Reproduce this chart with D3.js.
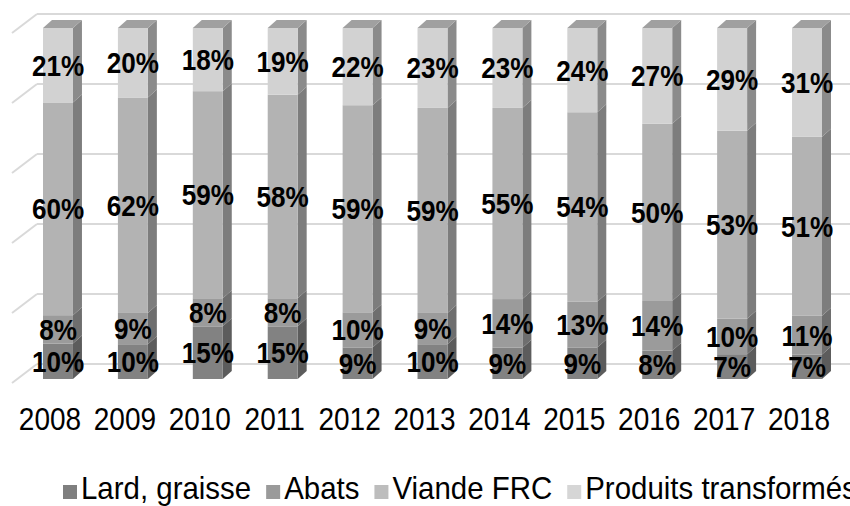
<!DOCTYPE html>
<html><head><meta charset="utf-8">
<script src="https://cdn.jsdelivr.net/npm/d3@7"></script>
<style>body{margin:0;background:#fff}svg{display:block}</style>
</head><body>
<svg id="c" width="850" height="506"></svg>
<script>
const years = ["2008","2009","2010","2011","2012","2013","2014","2015","2016","2017","2018"];
const seriesNames = ["Lard, graisse","Abats","Viande FRC","Produits transformés"];
const lard     = [10,10,15,15, 9,10, 9, 9, 8, 7, 7];
const abats    = [ 8, 9, 8, 8,10, 9,14,13,14,10,11];
const viande   = [60,62,59,58,59,59,55,54,50,53,51];
const produits = [21,20,18,19,22,23,23,24,27,29,31];
const gridTicks = [0,0.2,0.4,0.6,0.8,1];

const frontCol = ["#828282","#9b9b9b","#b3b3b3","#d2d2d2"];
const sideCol  = ["#5c5c5c","#6e6e6e","#7d7d7d","#8b8b8b"];
const topCol = "#a0a0a0";
const legendCol = ["#7f7f7f","#9a9a9a","#bdbdbd","#d6d6d6"];
const FONT = "'Liberation Sans', Arial, sans-serif";

const svg = d3.select("#c");
const all = [lard, abats, viande, produits];
const rows = years.map((y,i)=>{
  const vals = all.map(s=>s[i]);
  const tot = d3.sum(vals);
  const r = {year:y};
  seriesNames.forEach((n,k)=>{ r[n]=vals[k]/tot; });
  return r;
});
const stack = d3.stack().keys(seriesNames)(rows);

const x = d3.scaleBand().domain(years).range([43, 822]).paddingInner(0.6).paddingOuter(0);
const y = d3.scaleLinear().domain([0,1]).range([379, 28]);
const yBack = d3.scaleLinear().domain([0,1]).range([364, 14]);
const dx = 9, dy = 8;
const wallDx = 25, wallDy = 19;

const g = svg.append("g");
gridTicks.forEach(t=>{
  const yy = yBack(t);
  g.append("line").attr("x1",37).attr("x2",850).attr("y1",yy).attr("y2",yy)
    .attr("stroke","#d9d9d9").attr("stroke-width",2);
  g.append("line").attr("x1",37-wallDx).attr("y1",yy+wallDy).attr("x2",37).attr("y2",yy)
    .attr("stroke","#d9d9d9").attr("stroke-width",2);
});

const bars = svg.append("g");
stack.forEach((layer,k)=>{
  layer.forEach((d,i)=>{
    const x0 = x(years[i]), w = x.bandwidth();
    const yb = y(d[0]), yt = y(d[1]);
    bars.append("polygon")
      .attr("points",[[x0+w,yb],[x0+w+dx,yb-dy],[x0+w+dx,yt-dy],[x0+w,yt]].join(" "))
      .attr("fill",sideCol[k]);
    bars.append("rect").attr("x",x0).attr("y",yt).attr("width",w).attr("height",yb-yt)
      .attr("fill",frontCol[k]);
    if(k===stack.length-1){
      bars.append("polygon")
        .attr("points",[[x0,yt],[x0+dx,yt-dy],[x0+w+dx,yt-dy],[x0+w,yt]].join(" "))
        .attr("fill",topCol);
    }
  });
});

const labels = svg.append("g").style("font-family",FONT)
  .attr("font-weight","bold").attr("font-size",29).attr("fill","#000").attr("text-anchor","middle");
stack.forEach((layer,k)=>{
  layer.forEach((d,i)=>{
    labels.append("text")
      .attr("transform",`translate(${x(years[i]) + x.bandwidth()/2},${(y(d[0])+y(d[1]))/2}) scale(0.9,1)`)
      .attr("dy","0.36em")
      .text(all[k][i]+"%");
  });
});

const xa = svg.append("g").style("font-family",FONT)
  .attr("font-size",32).attr("fill","#000").attr("text-anchor","middle");
years.forEach(yr=>{
  xa.append("text")
    .attr("transform",`translate(${x(yr)+x.bandwidth()/2-8},430) scale(0.875,1)`)
    .text(yr);
});

const lg = svg.append("g").style("font-family",FONT)
  .attr("font-size",31).attr("fill","#000");
const sx = 0.95;
let lx = 63;
seriesNames.forEach((n,k)=>{
  lg.append("rect").attr("x",lx).attr("y",485).attr("width",14).attr("height",14).attr("fill",legendCol[k]);
  const t = lg.append("text").attr("transform",`translate(${lx+18},499) scale(${sx},1)`).text(n);
  lx += 18 + t.node().getComputedTextLength()*sx + 15;
});
</script>
</body></html>
